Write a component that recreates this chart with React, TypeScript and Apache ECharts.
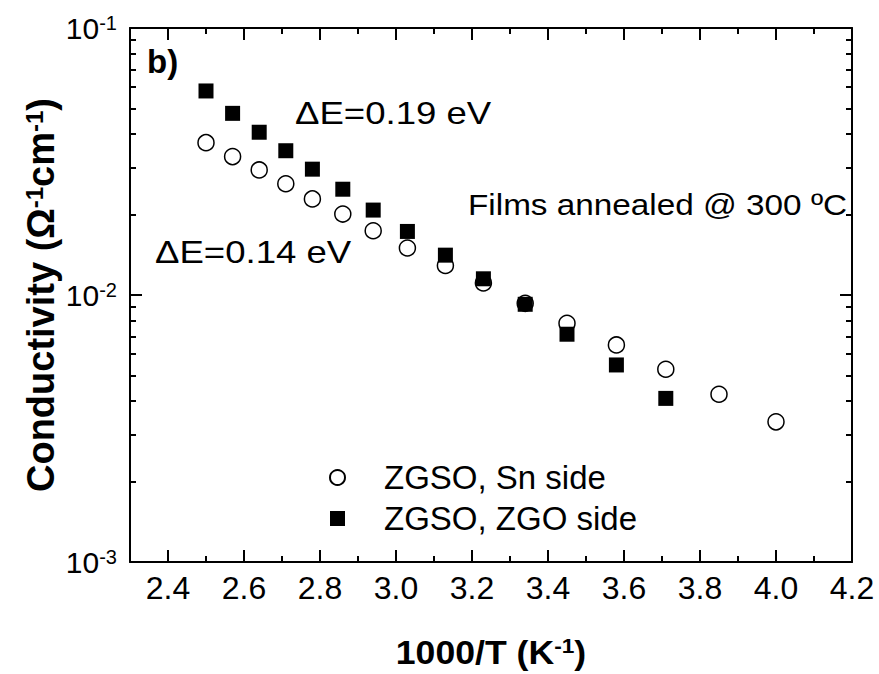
import React, { useEffect, useRef } from "react";
import * as echarts from "echarts";

// ---- data ----
const invTSn = [2.5, 2.57, 2.64, 2.71, 2.78, 2.86, 2.94, 3.03, 3.13, 3.23, 3.34, 3.45, 3.58, 3.71, 3.85, 4.0];
const sigmaSn = [0.0372, 0.033, 0.0294, 0.0261, 0.0229, 0.0201, 0.0174, 0.015, 0.0129, 0.0111, 0.00931, 0.00783, 0.0065, 0.00527, 0.00425, 0.00335];
const invTZGO = [2.5, 2.57, 2.64, 2.71, 2.78, 2.86, 2.94, 3.03, 3.13, 3.23, 3.34, 3.45, 3.58, 3.71];
const sigmaZGO = [0.0581, 0.0479, 0.0407, 0.0347, 0.0296, 0.0249, 0.0208, 0.0173, 0.0141, 0.0115, 0.00923, 0.00713, 0.00547, 0.0041];

const xMajorTicks = [2.4, 2.6, 2.8, 3.0, 3.2, 3.4, 3.6, 3.8, 4.0, 4.2];
const xMinorTicks = [2.5, 2.7, 2.9, 3.1, 3.3, 3.5, 3.7, 3.9, 4.1];
const yDecades = [0.001, 0.01, 0.1];
const yMinorTicks = [0.002, 0.003, 0.004, 0.005, 0.006, 0.007, 0.008, 0.009, 0.02, 0.03, 0.04, 0.05, 0.06, 0.07, 0.08, 0.09];

const FONT = "'Liberation Sans', Arial, Helvetica, sans-serif";
const BLACK = "#000";

const lg = (v: number) => Math.log10(v);

function xAxisDef(grid: number, pos: "bottom" | "top", ticks: number[], len: number, labels: boolean, line: boolean) {
  return {
    type: "value",
    gridIndex: grid,
    position: pos,
    min: 2.3,
    max: 4.2,
    axisLine: { show: line, onZero: false, lineStyle: { color: BLACK, width: 2 } },
    axisTick: { show: true, inside: true, length: len, customValues: ticks, lineStyle: { color: BLACK, width: 2 } },
    axisLabel: labels
      ? {
          show: true,
          customValues: ticks,
          formatter: (v: number) => v.toFixed(1),
          fontSize: 32,
          fontFamily: FONT,
          color: BLACK,
          margin: 10,
        }
      : { show: false },
    splitLine: { show: false },
  };
}

function yAxisDef(grid: number, pos: "left" | "right", ticks: number[], len: number, labels: boolean, line: boolean) {
  const vals = ticks.map(lg);
  return {
    type: "value",
    gridIndex: grid,
    position: pos,
    min: lg(yDecades[0]),
    max: lg(yDecades[yDecades.length - 1]),
    axisLine: { show: line, onZero: false, lineStyle: { color: BLACK, width: 2 } },
    axisTick: { show: true, inside: true, length: len, customValues: vals, lineStyle: { color: BLACK, width: 2 } },
    axisLabel: labels
      ? {
          show: true,
          customValues: vals,
          formatter: (v: number) => `{b|10}{s|${Math.round(v)}}`,
          margin: 13,
          rich: {
            b: { fontSize: 30, fontFamily: FONT, color: BLACK },
            s: { fontSize: 20, fontFamily: FONT, color: BLACK, verticalAlign: "top" },
          },
        }
      : { show: false },
    splitLine: { show: false },
  };
}

export default function App() {
  const ref = useRef<HTMLDivElement>(null);

  useEffect(() => {
    if (!ref.current) return;
    const chart = echarts.init(ref.current, null, { renderer: "svg" });
    const gridBox = { left: 130, right: 27, top: 28, bottom: 112, containLabel: false, outerBoundsMode: "none" };
    const option: any = {
      animation: false,
      backgroundColor: "#fff",
      grid: [{ ...gridBox }, { ...gridBox }],
      xAxis: [
        xAxisDef(0, "bottom", xMajorTicks, 12, true, true),
        xAxisDef(0, "top", xMajorTicks, 12, false, true),
        xAxisDef(1, "bottom", xMinorTicks, 6, false, false),
        xAxisDef(1, "top", xMinorTicks, 6, false, false),
      ],
      yAxis: [
        yAxisDef(0, "left", yDecades, 12, true, true),
        yAxisDef(0, "right", yDecades, 12, false, true),
        yAxisDef(1, "left", yMinorTicks, 6, false, false),
        yAxisDef(1, "right", yMinorTicks, 6, false, false),
      ],
      legend: {
        orient: "vertical",
        left: 329,
        top: 461,
        padding: 0,
        itemGap: 8,
        itemWidth: 15,
        itemHeight: 15,
        textStyle: { fontSize: 33, lineHeight: 32, fontFamily: FONT, color: BLACK, padding: [0, 0, 0, 34] },
        data: ["ZGSO, Sn side", "ZGSO, ZGO side"],
      },
      series: [
        {
          name: "ZGSO, Sn side",
          type: "scatter",
          xAxisIndex: 0,
          yAxisIndex: 0,
          symbol: "circle",
          symbolSize: 16,
          itemStyle: { color: "#fff", borderColor: BLACK, borderWidth: 1.5, opacity: 1 },
          data: invTSn.map((x, i) => [x, lg(sigmaSn[i])]),
          z: 2,
        },
        {
          name: "ZGSO, ZGO side",
          type: "scatter",
          xAxisIndex: 0,
          yAxisIndex: 0,
          symbol: "rect",
          symbolSize: 15,
          itemStyle: { color: BLACK, opacity: 1 },
          data: invTZGO.map((x, i) => [x, lg(sigmaZGO[i])]),
          z: 3,
        },
      ],
      graphic: [
        {
          type: "text",
          x: 147,
          y: 61,
          style: { text: "b)", fontSize: 33, fontWeight: "bold", fontFamily: FONT, fill: BLACK, align: "left", verticalAlign: "middle" },
        },
        {
          type: "text",
          x: 295,
          y: 113,
          scaleX: 1.18,
          style: { text: "ΔE=0.19 eV", fontSize: 31, fontFamily: FONT, fill: BLACK, align: "left", verticalAlign: "middle" },
        },
        {
          type: "text",
          x: 155,
          y: 252,
          scaleX: 1.18,
          style: { text: "ΔE=0.14 eV", fontSize: 31, fontFamily: FONT, fill: BLACK, align: "left", verticalAlign: "middle" },
        },
        {
          type: "text",
          x: 468,
          y: 205,
          scaleX: 1.11,
          style: { text: "Films annealed @ 300 ºC", fontSize: 30, fontFamily: FONT, fill: BLACK, align: "left", verticalAlign: "middle" },
        },
        {
          type: "text",
          x: 491,
          y: 652,
          scaleX: 1.08,
          style: {
            text: "{b|1000/T (K}{s|-1}{b|)}",
            align: "center",
            verticalAlign: "middle",
            fill: BLACK,
            rich: {
              b: { fontSize: 33, fontWeight: "bold", fontFamily: FONT, fill: BLACK },
              s: { fontSize: 21, fontWeight: "bold", fontFamily: FONT, fill: BLACK, verticalAlign: "top" },
            },
          },
        },
        {
          type: "text",
          x: 41,
          y: 295,
          rotation: Math.PI / 2,
          style: {
            text: "{b|Conductivity (Ω}{s|-1}{b|cm}{s|-1}{b|)}",
            align: "center",
            verticalAlign: "middle",
            fill: BLACK,
            rich: {
              b: { fontSize: 38, fontWeight: "bold", fontFamily: FONT, fill: BLACK },
              s: { fontSize: 24, fontWeight: "bold", fontFamily: FONT, fill: BLACK, verticalAlign: "top" },
            },
          },
        },
      ],
    };
    chart.setOption(option);
    return () => chart.dispose();
  }, []);

  return <div ref={ref} style={{ position: "fixed", left: 0, top: 0, width: 879, height: 674 }} />;
}
